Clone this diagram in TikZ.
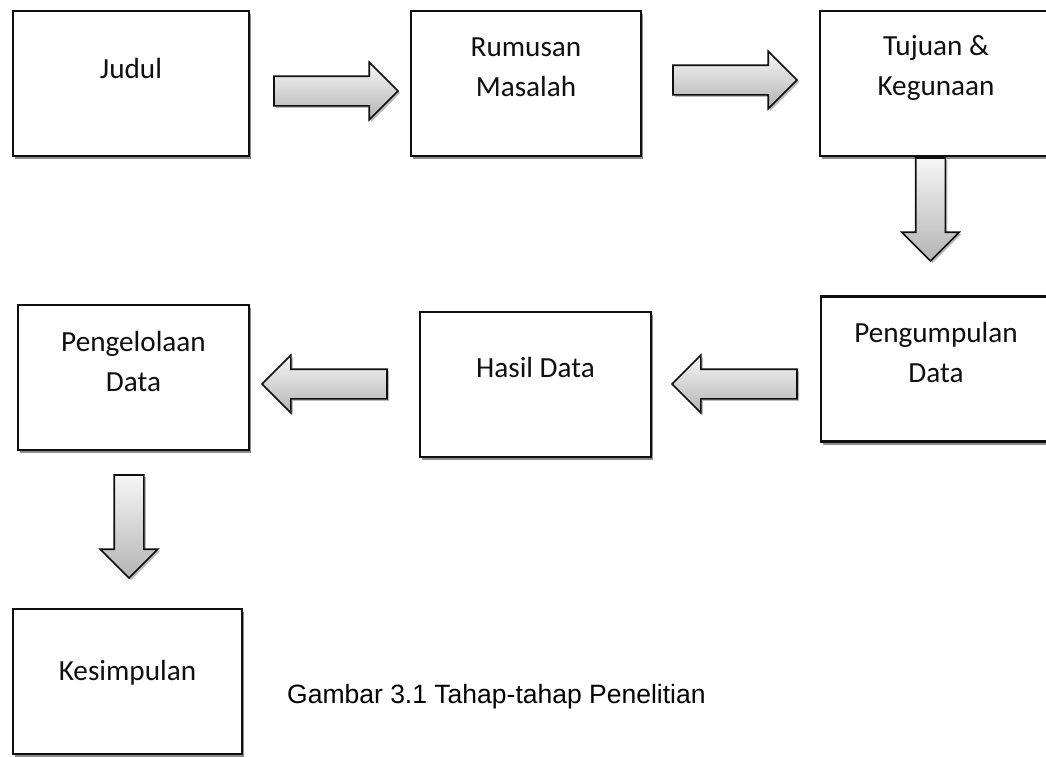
\documentclass[tikz,border=0pt]{standalone}
\usepackage{fontspec}
\setmainfont{Carlito}
\newfontfamily\capfont{Liberation Sans}
\usepackage{tikz}
\usetikzlibrary{shapes.arrows, shadows, calc}
\definecolor{myline}{RGB}{15,15,15}
\definecolor{myshadow}{RGB}{140,140,140}
\definecolor{arrtop}{RGB}{246,246,246}
\definecolor{arrbot}{RGB}{180,180,180}
\tikzset{
  stepbox/.style={rectangle, draw=myline, fill=white, line width=2.8pt,
    minimum height=145pt, inner sep=0pt,
    drop shadow={shadow xshift=2pt, shadow yshift=-3pt, fill=myshadow, opacity=1}},
  boxtext/.style={align=center, font=\fontsize{29.2}{40}\selectfont,
    text=myline, inner sep=0pt},
  blockarrow/.style={single arrow, draw=myline, line width=1.6pt,
    minimum height=124pt, single arrow head extend=14pt,
    inner xsep=0pt, inner ysep=14pt, outer sep=0pt, anchor=tail,
    top color=arrtop, bottom color=arrbot,
    drop shadow={shadow xshift=2pt, shadow yshift=-2pt, fill=myshadow, opacity=0.6}},
  downarrow/.style={blockarrow, inner xsep=14pt, inner ysep=0pt,
    minimum height=103pt, shape border rotate=270},
  leftarrow/.style={blockarrow, minimum height=125pt, shape border rotate=180}
}

\begin{document}
\begin{tikzpicture}[x=1pt, y=-1pt]
  \path[use as bounding box] (0,0) rectangle (1046,756);
  \clip (0,0) rectangle (1046,756);

  % Top row
  \node[stepbox, minimum width=236pt] (judul) at (131,83.5) {};
  \node[stepbox, minimum width=230pt] (rumusan) at (526,83.5) {};
  \node[stepbox, minimum width=232pt] (tujuan) at (936,83.5) {};
  \node[boxtext] (tjudul) at ($(judul.north)+(0,59)$) {Judul};
  \node[boxtext] (trumusan) at ($(rumusan.north)+(0,58)$) {Rumusan\\Masalah};
  \node[boxtext] (ttujuan) at ($(tujuan.north)+(0,58)$) {Tujuan \&\\Kegunaan};

  % Middle row
  \node[stepbox, minimum width=230pt] (kumpul) at (936,369) {};
  \node[stepbox, minimum width=231pt] (hasil) at (535.5,384.5) {};
  \node[stepbox, minimum width=231pt] (kelola) at (133.5,377.5) {};
  \node[boxtext] (tkumpul) at ($(kumpul.north)+(0,57.5)$) {Pengumpulan\\Data};
  \node[boxtext] (thasil) at ($(hasil.north)+(0,57)$) {Hasil Data};
  \node[boxtext] (tkelola) at ($(kelola.north)+(0,57.5)$) {Pengelolaan\\Data};

  % Last box and caption
  \node[stepbox, minimum width=229pt] (simpul) at (127.5,681.5) {};
  \node[boxtext] (tsimpul) at ($(simpul.north)+(0,65)$) {Kesimpulan};
  \node[anchor=base west, inner sep=0pt, text=black,
    font=\capfont\fontsize{26.5}{30}\selectfont] (caption) at (287,703)
    {Gambar 3.1 Tahap-tahap Penelitian};

  % Block arrows (placed by their tails)
  \node[blockarrow] (a1) at (274,91) {};
  \node[blockarrow] (a2) at (673,80) {};
  \node[downarrow] (a3) at (930.5,158) {};
  \node[leftarrow] (a4) at (797,384) {};
  \node[leftarrow] (a5) at (387,384) {};
  \node[downarrow] (a6) at (129,475) {};
\end{tikzpicture}
\end{document}
